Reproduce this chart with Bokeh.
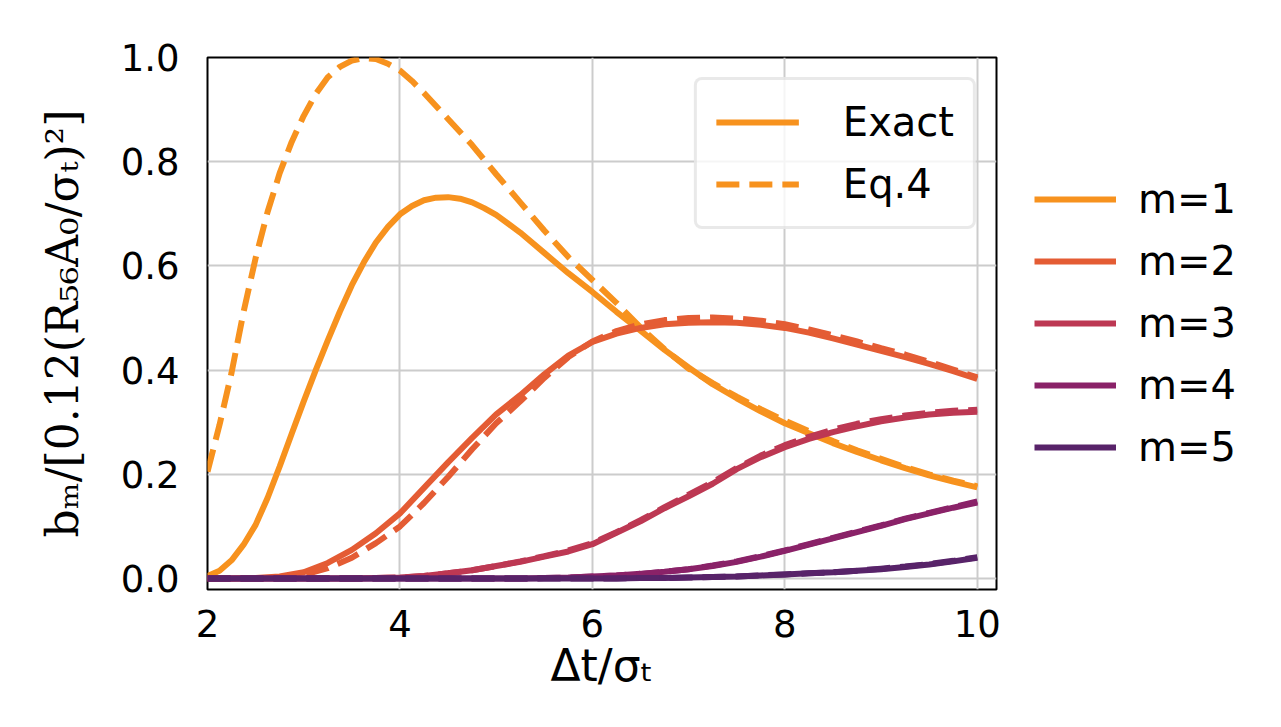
from bokeh.plotting import figure
from bokeh.models import Legend, LegendItem, FixedTicker, PrintfTickFormatter, Range1d
from bokeh.embed import file_html
from bokeh.resources import INLINE

# ---- data ----
dt_m1 = [2.0, 2.125, 2.25, 2.375, 2.5, 2.625, 2.75, 2.875, 3.0, 3.125, 3.25, 3.375, 3.5, 3.625, 3.75,
         3.875, 4.0, 4.125, 4.25, 4.375, 4.5, 4.625, 4.75, 4.875, 5.0, 5.25, 5.5, 5.75,
         6.0, 6.25, 6.5, 6.75, 7.0, 7.25, 7.5, 7.75, 8.0, 8.25, 8.5, 8.75, 9.0, 9.25, 9.5, 9.75, 10.0]
m1_exact = [0.005, 0.015, 0.035, 0.065, 0.103, 0.155, 0.215, 0.278, 0.34, 0.40, 0.457, 0.512, 0.563,
            0.607, 0.645, 0.675, 0.699, 0.715, 0.726, 0.731, 0.732, 0.729, 0.722, 0.711, 0.698, 0.664,
            0.625, 0.586, 0.550, 0.512, 0.476, 0.439, 0.405, 0.373, 0.346, 0.321, 0.298, 0.279, 0.260,
            0.243, 0.227, 0.212, 0.198, 0.186, 0.175]
m1_eq4 = [0.205, 0.295, 0.395, 0.512, 0.615, 0.704, 0.778, 0.838, 0.888, 0.93, 0.962, 0.982, 0.994,
          0.999, 0.997, 0.988, 0.975, 0.955, 0.932, 0.907, 0.882, 0.857, 0.832, 0.804, 0.776, 0.722,
          0.668, 0.617, 0.573, 0.529, 0.482, 0.440, 0.403, 0.375, 0.349, 0.325, 0.303, 0.283, 0.264,
          0.246, 0.230, 0.214, 0.200, 0.188, 0.177]

dt = [2.0, 2.25, 2.5, 2.75, 3.0, 3.25, 3.5, 3.75, 4.0, 4.25, 4.5, 4.75, 5.0, 5.25, 5.5, 5.75,
      6.0, 6.25, 6.5, 6.75, 7.0, 7.25, 7.5, 7.75, 8.0, 8.25, 8.5, 8.75, 9.0, 9.25, 9.5, 9.75, 10.0]
m2_exact = [0.0, 0.0, 0.001, 0.004, 0.012, 0.03, 0.055, 0.087, 0.125, 0.174, 0.223, 0.27, 0.315, 0.352,
            0.392, 0.428, 0.454, 0.470, 0.481, 0.488, 0.491, 0.492, 0.491, 0.487, 0.481, 0.472, 0.461, 0.449,
            0.437, 0.425, 0.412, 0.398, 0.383]
m2_eq4 = [0.0, 0.0, 0.0, 0.002, 0.007, 0.02, 0.04, 0.068, 0.1, 0.145, 0.195, 0.248, 0.298, 0.34,
          0.385, 0.425, 0.455, 0.475, 0.488, 0.496, 0.500, 0.501, 0.499, 0.495, 0.488, 0.478, 0.467, 0.455,
          0.442, 0.430, 0.416, 0.401, 0.386]
m3_exact = [0.0, 0.0, 0.0, 0.0, 0.0, 0.0, 0.0, 0.001, 0.002, 0.005, 0.01, 0.016, 0.024, 0.032,
            0.042, 0.052, 0.066, 0.088, 0.11, 0.135, 0.158, 0.182, 0.210, 0.233, 0.252, 0.268, 0.281, 0.292,
            0.302, 0.309, 0.315, 0.318, 0.320]
m3_eq4 = [0.0, 0.0, 0.0, 0.0, 0.0, 0.0, 0.0, 0.001, 0.002, 0.005, 0.01, 0.016, 0.024, 0.033,
          0.043, 0.054, 0.068, 0.089, 0.112, 0.137, 0.161, 0.185, 0.212, 0.236, 0.256, 0.272, 0.286, 0.297,
          0.306, 0.313, 0.318, 0.322, 0.324]
m4_exact = [0.0, 0.0, 0.0, 0.0, 0.0, 0.0, 0.0, 0.0, 0.0, 0.0, 0.0, 0.0, 0.0, 0.0,
            0.001, 0.002, 0.004, 0.006, 0.009, 0.013, 0.018, 0.024, 0.032, 0.042, 0.053, 0.065, 0.077, 0.089,
            0.101, 0.114, 0.125, 0.136, 0.146]
m4_eq4 = [0.0, 0.0, 0.0, 0.0, 0.0, 0.0, 0.0, 0.0, 0.0, 0.0, 0.0, 0.0, 0.0, 0.0,
          0.001, 0.002, 0.004, 0.006, 0.009, 0.013, 0.018, 0.025, 0.033, 0.043, 0.054, 0.066, 0.078, 0.090,
          0.102, 0.115, 0.126, 0.137, 0.148]
m5_exact = [0.0, 0.0, 0.0, 0.0, 0.0, 0.0, 0.0, 0.0, 0.0, 0.0, 0.0, 0.0, 0.0, 0.0,
            0.0, 0.0, 0.0, 0.0, 0.001, 0.001, 0.002, 0.003, 0.004, 0.006, 0.008, 0.010, 0.012, 0.015,
            0.018, 0.022, 0.027, 0.033, 0.040]
m5_eq4 = [0.0, 0.0, 0.0, 0.0, 0.0, 0.0, 0.0, 0.0, 0.0, 0.0, 0.0, 0.0, 0.0, 0.0,
          0.0, 0.0, 0.0, 0.0, 0.001, 0.001, 0.002, 0.003, 0.004, 0.006, 0.008, 0.010, 0.012, 0.015,
          0.019, 0.023, 0.028, 0.034, 0.041]

series_names = ["m=1", "m=2", "m=3", "m=4", "m=5"]
x_series = [dt_m1, dt, dt, dt, dt]
exact_series = [m1_exact, m2_exact, m3_exact, m4_exact, m5_exact]
eq4_series = [m1_eq4, m2_eq4, m3_eq4, m4_eq4, m5_eq4]
colors = ["#F7921E", "#E45C34", "#BD3853", "#8A2268", "#582369"]
style_names = ["Exact", "Eq.4"]
x_ticks = [2, 4, 6, 8, 10]
y_ticks = [0.0, 0.2, 0.4, 0.6, 0.8, 1.0]

# ---- figure ----
p = figure(frame_width=789, frame_height=532, output_backend="svg", toolbar_location=None,
           x_range=Range1d(2.0, 10.2), y_range=Range1d(-0.021, 1.0))
p.min_border_left = 207
p.min_border_right = 269
p.min_border_top = 57
p.min_border_bottom = 122
p.background_fill_color = "white"
p.border_fill_color = "white"
p.outline_line_color = "black"
p.outline_line_width = 2

p.xgrid.grid_line_color = "#cccccc"
p.ygrid.grid_line_color = "#cccccc"
p.xgrid.grid_line_width = 2
p.ygrid.grid_line_width = 2

p.xaxis.ticker = FixedTicker(ticks=x_ticks)
p.yaxis.ticker = FixedTicker(ticks=y_ticks)
p.yaxis.formatter = PrintfTickFormatter(format="%.1f")
for ax in (p.xaxis[0], p.yaxis[0]):
    ax.axis_line_color = None
    ax.major_tick_line_color = None
    ax.minor_tick_line_color = None
    ax.major_label_text_font = "DejaVu Sans"
    ax.major_label_text_font_size = "37px"
    ax.major_label_text_color = "black"
    ax.axis_label_text_font_style = "normal"
    ax.axis_label_text_color = "black"
    ax.axis_label_text_font_size = "44px"

p.xaxis.major_label_standoff = 14
p.yaxis.major_label_standoff = 22
p.xaxis.axis_label = "Δt/σₜ"
p.xaxis.axis_label_text_font = "DejaVu Sans"
p.xaxis.axis_label_standoff = 0
p.yaxis.axis_label = "bₘ/[0.12(R₅₆A₀/σₜ)²]"
p.yaxis.axis_label_text_font = "DejaVu Serif"
p.yaxis.axis_label_standoff = 30

solid_renderers = []
dashed_renderers = []
for xs, ex, eq, c in zip(x_series, exact_series, eq4_series, colors):
    r1 = p.line(xs, ex, line_color=c, line_width=6)
    r2 = p.line(xs, eq, line_color=c, line_width=6, line_dash="23 10")
    solid_renderers.append(r1)
    dashed_renderers.append(r2)

# inner legend (line style)
leg1 = Legend(items=[LegendItem(label=style_names[0], renderers=[solid_renderers[0]]),
                     LegendItem(label=style_names[1], renderers=[dashed_renderers[0]])],
              location="top_right")
leg1.margin = 20
leg1.padding = 19
leg1.spacing = 16
leg1.glyph_width = 83
leg1.glyph_height = 40
leg1.label_height = 40
leg1.label_standoff = 44
leg1.label_text_font = "DejaVu Sans"
leg1.label_text_font_size = "40px"
leg1.label_text_color = "black"
leg1.border_line_color = "#d4d4d4"
leg1.border_line_width = 3
leg1.border_radius = 8
leg1.background_fill_alpha = 0.8
p.add_layout(leg1, "center")

# outer legend (mode number)
leg2 = Legend(items=[LegendItem(label=n, renderers=[r]) for n, r in zip(series_names, solid_renderers)],
              location="center_left")
leg2.margin = 0
leg2.padding = 38
leg2.spacing = 16
leg2.glyph_width = 82
leg2.glyph_height = 40
leg2.label_height = 40
leg2.label_standoff = 22
leg2.label_text_font = "DejaVu Sans"
leg2.label_text_font_size = "40px"
leg2.label_text_color = "black"
leg2.border_line_alpha = 0
leg2.background_fill_alpha = 0
p.add_layout(leg2, "right")

open("out.html", "w").write(file_html(p, INLINE))
